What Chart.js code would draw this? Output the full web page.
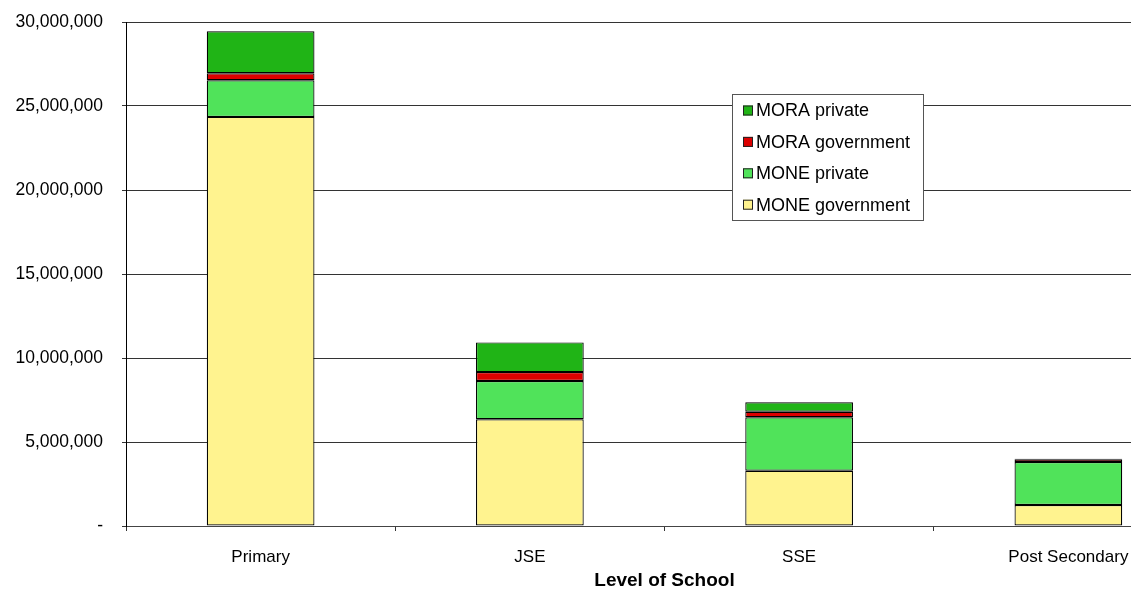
<!DOCTYPE html>
<html>
<head>
<meta charset="utf-8">
<script src="https://cdn.jsdelivr.net/npm/chart.js@4/dist/chart.umd.min.js"></script>
<style>
	html, body {
		margin: 0;
		padding: 0;
		overflow: hidden;
		background: #fff;
	}
	#wrap {
		width: 1203px;
		height: 589px;
	}
</style>
</head>
<body>
<div id="wrap"><canvas id="schoolChart" width="1203" height="589"></canvas></div>
<script>
// Data (students)
const levels = ["Primary", "JSE", "SSE", "Post Secondary"];
const moneGovernment = [24350000, 6350000, 3290000, 1250000];
const monePrivate = [2180000, 2280000, 3180000, 2560000];
const moraGovernment = [420000, 530000, 330000, 160000];
const moraPrivate = [2500000, 1770000, 560000, 30000];
const yTicks = [0, 5000000, 10000000, 15000000, 20000000, 25000000, 30000000];

const FONT = "'Liberation Sans', Arial, sans-serif";

// Legend box drawn inside the plot, top to bottom = top of stack first
const boxLegend = {
	id: "boxLegend",
	afterDraw(chart) {
		const c = chart.ctx;
		const items = chart.data.datasets.slice().reverse();
		c.save();
		c.fillStyle = "#fff";
		c.fillRect(732, 94, 191, 126);
		c.strokeStyle = "#555";
		c.lineWidth = 1;
		c.strokeRect(732.5, 94.5, 191, 126);
		c.font = "18px " + FONT;
		c.textBaseline = "middle";
		items.forEach((ds, i) => {
			const y = 110.5 + i * 31.4;
			c.fillStyle = ds.backgroundColor;
			c.fillRect(743, y - 5, 10, 10);
			c.strokeStyle = "#222";
			c.strokeRect(743.5, y - 4.5, 9, 9);
			c.fillStyle = "#000";
			c.fillText(ds.label, 756, y + 1);
		});
		c.restore();
	},
};

const ctx = document.getElementById("schoolChart").getContext("2d");
const schoolChart = new Chart(ctx, {
	type: "bar",
	data: {
		labels: levels,
		datasets: [
			{ label: "MONE government", data: moneGovernment, backgroundColor: "#fff38f" },
			{ label: "MONE private", data: monePrivate, backgroundColor: "#50e35a" },
			{ label: "MORA government", data: moraGovernment, backgroundColor: "#dd0000" },
			{ label: "MORA private", data: moraPrivate, backgroundColor: "#20b416" },
		].map((ds) => ({
			...ds,
			borderColor: "#000",
			borderWidth: 1.2,
			borderSkipped: false,
			categoryPercentage: 1,
			barPercentage: 0.4,
		})),
	},
	options: {
		responsive: false,
		animation: false,
		devicePixelRatio: 1,
		layout: { padding: { top: 22, right: 0, left: 0, bottom: 0 } },
		plugins: {
			legend: { display: false },
			tooltip: { enabled: false },
		},
		scales: {
			x: {
				stacked: true,
				grid: {
					drawOnChartArea: false,
					drawTicks: true,
					tickLength: 5,
					color: "#333",
				},
				border: { color: "#444", width: 1 },
				ticks: {
					color: "#000",
					padding: 16,
					maxRotation: 0,
					font: { family: FONT, size: 17 },
				},
				title: {
					display: true,
					text: "Level of School",
					color: "#000",
					padding: { top: 0, bottom: 0 },
					font: { family: FONT, size: 19, weight: "bold", lineHeight: 0.9 },
				},
				afterFit(scale) {
					scale.height = 63;
				},
			},
			y: {
				stacked: true,
				min: 0,
				max: 30000000,
				afterBuildTicks(scale) {
					scale.ticks = yTicks.map((v) => ({ value: v }));
				},
				grid: {
					color: "#333",
					lineWidth: 1,
					tickLength: 4,
				},
				border: { color: "#000", width: 1 },
				ticks: {
					color: "#000",
					padding: 19,
					font: { family: FONT, size: 17.5 },
					callback: (v) => (v === 0 ? "-" : v.toLocaleString("en-US")),
				},
				afterFit(scale) {
					scale.width = 126;
					// tick padding should not push the plot down
					scale.paddingTop = 0;
					scale.paddingBottom = 0;
				},
			},
		},
	},
	plugins: [boxLegend],
});
</script>
</body>
</html>
